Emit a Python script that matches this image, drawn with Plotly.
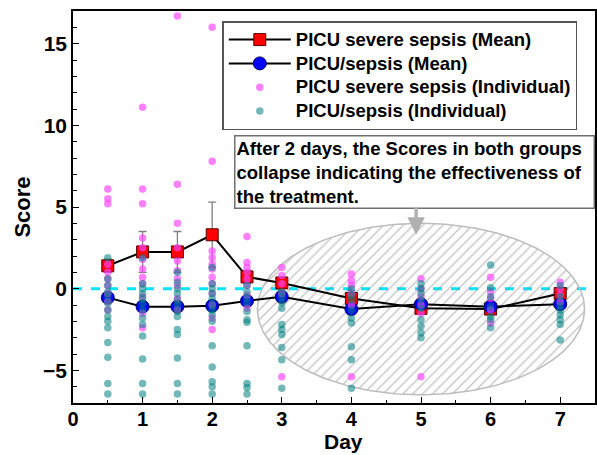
import numpy as np
import plotly.graph_objects as go

# ---- data ----
mean_days = [0.5, 1, 1.5, 2, 2.5, 3, 4, 5, 6, 7]
severe_mean = [1.4, 2.25, 2.25, 3.3, 0.72, 0.35, -0.6, -1.2, -1.25, -0.3]
severe_err = [0.4, 1.25, 1.25, 2.0, 0.4, 0.3, 0.5, 0.3, 0.3, 0.3]
sepsis_mean = [-0.55, -1.1, -1.1, -1.05, -0.75, -0.5, -1.25, -0.95, -1.1, -0.95]

severe_ind = {
    0.5: [6.1, 5.5, 5.2, 1.5, 1.0, 0.6, 0.2, -0.3, -0.8, -1.3],
    1: [11.1, 6.1, 5.2, 3.1, 2.5, 1.8, 1.2, 0.7, 0.3, -0.5, -1.5, -2.4],
    1.5: [16.7, 6.4, 4.0, 2.5, 1.7, 1.1, 0.6, 0.2, -0.6, -1.3],
    2: [16.0, 7.8, 2.3, 1.9, 1.5, 1.2, 0.7, 0.3, -0.3, -1.0, -1.8, -2.5],
    2.5: [3.2, 1.6, 1.3, 1.0, 0.6, 0.2, -0.4, -1.2],
    3: [1.3, 0.8, 0.3, -0.3, -5.4],
    4: [0.9, 0.5, 0.2, -0.3, -1.0, -5.4],
    5: [0.6, 0.0, -0.5, -1.0, -1.5, -5.4],
    6: [0.7, -0.2, -0.6, -1.3, -2.1],
    7: [0.4, 0.0, -0.4, -0.8],
}
sepsis_ind = {
    0.5: [1.9, 0.6, 0.2, -0.2, -0.5, -0.9, -1.3, -1.7, -2.0, -2.4, -3.3, -4.2, -5.8, -6.45],
    1: [1.9, 0.3, 0.0, -0.3, -0.6, -0.9, -1.3, -1.8, -2.2, -2.9, -4.3, -5.8, -6.45],
    1.5: [1.0, 0.4, 0.0, -0.3, -0.7, -1.0, -1.4, -1.7, -2.5, -2.8, -4.25, -5.8, -6.45],
    2: [1.3, 0.3, 0.0, -0.3, -0.6, -1.0, -1.3, -1.6, -2.0, -3.5, -4.8, -5.7, -6.0, -6.45],
    2.5: [0.2, -0.2, -0.55, -0.9, -1.4, -1.9, -2.05, -3.5, -5.8, -6.05, -6.45],
    3: [-0.2, -0.5, -0.85, -1.2, -2.2, -2.5, -2.8, -3.6, -4.35, -6.1],
    4: [0.0, -0.4, -0.7, -1.3, -1.8, -2.1, -3.55, -4.35, -6.1],
    5: [0.3, 0.0, -0.3, -0.7, -1.2, -1.9, -2.3, -2.7, -3.0],
    6: [1.45, 0.05, -0.5, -1.1, -1.7, -1.9, -2.4],
    7: [0.2, -0.5, -1.0, -1.3, -1.6, -1.9, -2.2, -3.15],
}

x_ticks = [0, 1, 2, 3, 4, 5, 6, 7]
y_ticks = [-5, 0, 5, 10, 15]

# highlight ellipse (center, radii in data units)
ell_cx, ell_cy, ell_rx, ell_ry = 5.0, -1.25, 2.35, 5.25

FONT = "Liberation Sans, Arial, sans-serif"

def flatten(d):
    xs, ys = [], []
    for k, vals in d.items():
        xs += [k] * len(vals)
        ys += vals
    return xs, ys

def big(s):
    return '<span style="font-size:18.5px">' + s + '</span>'

fig = go.Figure()

t = np.linspace(0, 2 * np.pi, 240)
fig.add_trace(go.Scatter(
    x=ell_cx + ell_rx * np.cos(t), y=ell_cy + ell_ry * np.sin(t),
    mode="lines", fill="toself", fillcolor="rgba(255,255,255,0)",
    fillpattern=dict(shape="/", fgcolor="#8c8c8c", bgcolor="rgba(255,255,255,0)",
                     size=7, solidity=0.2),
    line=dict(color="#bdbdbd", width=1.5),
    showlegend=False, hoverinfo="skip",
))

fig.add_trace(go.Scatter(
    x=mean_days, y=severe_mean, mode="lines+markers",
    name=big("PICU severe sepsis (Mean)"), legendrank=1,
    line=dict(color="black", width=2),
    marker=dict(symbol="square", size=12, color="#ff0000",
                line=dict(color="#5a0000", width=1)),
    error_y=dict(type="data", array=severe_err, color="#808080",
                 thickness=1.3, width=4),
))
fig.add_trace(go.Scatter(
    x=mean_days, y=sepsis_mean, mode="lines+markers",
    name=big("PICU/sepsis (Mean)"), legendrank=2,
    line=dict(color="black", width=2),
    marker=dict(symbol="circle", size=13, color="#0000ff",
                line=dict(color="#000060", width=1)),
))

sx, sy = flatten(severe_ind)
fig.add_trace(go.Scatter(
    x=sx, y=sy, mode="markers", name=big("PICU severe sepsis (Individual)"),
    legendrank=3,
    marker=dict(size=7.5, color="rgba(255,70,255,0.68)"),
))
px_, py_ = flatten(sepsis_ind)
fig.add_trace(go.Scatter(
    x=px_, y=py_, mode="markers", name=big("PICU/sepsis (Individual)"),
    legendrank=4,
    marker=dict(size=7.5, color="rgba(0,128,128,0.55)"),
))

fig.add_shape(type="line", xref="paper", x0=0, x1=1, yref="y", y0=0, y1=0,
              line=dict(color="#00e5ff", width=3, dash="dash"), layer="below")

fig.add_annotation(
    xref="paper", yref="paper", x=0.309, y=0.684, xanchor="left", yanchor="top",
    text="After 2 days, the Scores in both groups<br>collapse indicating the effectiveness of<br>the treatment.",
    showarrow=False, align="left", width=356, borderpad=1,
    font=dict(family=FONT, size=18.5, color="black", weight="bold"),
    bordercolor="#707070", borderwidth=1.5, bgcolor="white",
)
fig.add_annotation(
    x=4.93, y=3.3, xref="x", yref="y", text="", showarrow=True,
    ax=0, ay=-29, arrowhead=2, arrowsize=1.0, arrowwidth=3.5,
    arrowcolor="#b0b0b0",
)
# x-axis title placed explicitly just under the tick labels
fig.add_annotation(
    xref="paper", yref="paper", x=0.519, y=-0.132, xanchor="center",
    yanchor="bottom", text="Day", showarrow=False,
    font=dict(family=FONT, size=21, color="black", weight="bold"),
)

axis_common = dict(
    showline=True, linecolor="black", linewidth=1.5, mirror=True,
    ticks="inside", ticklen=6, tickwidth=1.2, tickcolor="black",
    showgrid=False, zeroline=False,
)
fig.update_xaxes(
    range=[0, 7.5], tickvals=x_ticks, **axis_common,
    ticklabelstandoff=-3,
    tickfont=dict(family=FONT, size=20, color="black", weight="bold"),
    minor=dict(dtick=0.5, ticks="inside", ticklen=3, tickcolor="black"),
)
fig.update_yaxes(
    range=[-7, 17], tickvals=y_ticks, **axis_common,
    tickfont=dict(family=FONT, size=21, color="black", weight="bold"),
    minor=dict(dtick=1, ticks="inside", ticklen=4, tickcolor="black"),
    title=dict(text="Score", standoff=6,
               font=dict(family=FONT, size=22, color="black", weight="bold")),
)

fig.update_layout(
    width=597, height=455,
    margin=dict(l=73, r=0, t=11, b=52),
    plot_bgcolor="white", paper_bgcolor="white",
    legend=dict(
        x=0.286, y=0.974, xanchor="left", yanchor="top",
        bgcolor="white", bordercolor="#555555", borderwidth=1.5,
        font=dict(family=FONT, size=16, color="black", weight="bold"),
        itemwidth=62, tracegroupgap=0,
    ),
)

fig.write_html("out.html")
